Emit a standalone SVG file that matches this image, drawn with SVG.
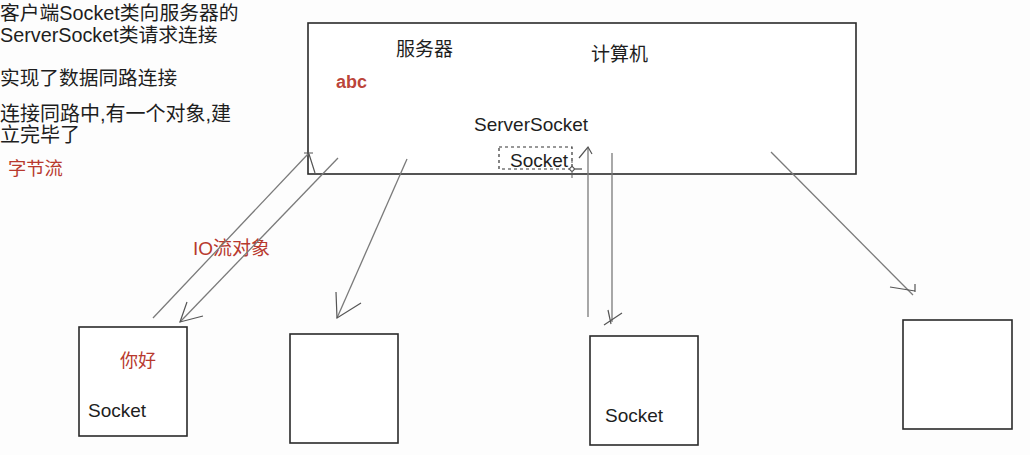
<svg xmlns="http://www.w3.org/2000/svg" width="1030" height="455" viewBox="0 0 1030 455">
<style>
text{font-family:"Liberation Sans","Noto Sans CJK SC",sans-serif;fill:#1e1e1e}
.r{fill:#b8392e}
.box{fill:#fff;stroke:#2a2a2a;stroke-width:1.6}
.ln{stroke:#7a7a7a;stroke-width:1.3;fill:none}
.ah{stroke:#555;stroke-width:1.2;fill:none}
</style>
<rect width="1030" height="455" fill="#fdfdfd"/>
<g id="notes">
<text x="0" y="20" font-size="19.8">客户端Socket类向服务器的</text>
<text x="0" y="42" font-size="19.8">ServerSocket类请求连接</text>
<text x="0" y="85" font-size="19.7">实现了数据同路连接</text>
<text x="0" y="121" font-size="20">连接同路中,有一个对象,建</text>
<text x="0" y="142" font-size="20">立完毕了</text>
<text class="r" x="8" y="175" font-size="18.3">字节流</text>
</g>
<g id="server">
<rect class="box" x="308" y="23" width="548" height="151"/>
<text x="396" y="56" font-size="19">服务器</text>
<text x="591" y="61" font-size="19">计算机</text>
<text class="r" x="336" y="88" font-size="18" font-weight="bold" fill-opacity="0.95">abc</text>
<text x="474" y="131" font-size="19">ServerSocket</text>
</g>
<g id="server-socket">
<rect x="499" y="147" width="73" height="22" fill="none" stroke="#333" stroke-width="1.2" stroke-dasharray="3,3"/>
<text x="510" y="167" font-size="19">Socket</text>
<line x1="572" y1="160" x2="572" y2="178" stroke="#777" stroke-width="1.2" stroke-dasharray="3,2"/>
<line x1="572" y1="169" x2="582" y2="169" stroke="#222" stroke-width="1"/>
<circle cx="572" cy="169" r="2.2" fill="#fff" stroke="#333" stroke-width="1"/>
</g>
<g id="client1">
<rect class="box" x="79" y="327" width="108" height="109"/>
<text class="r" x="120" y="367" font-size="18">你好</text>
<text x="88" y="417" font-size="19">Socket</text>
</g>
<g id="client2">
<rect class="box" x="290" y="334" width="108" height="109"/>
</g>
<g id="client3">
<rect class="box" x="590" y="336" width="108" height="109"/>
<text x="605" y="422" font-size="19">Socket</text>
</g>
<g id="client4">
<rect class="box" x="903" y="320" width="109" height="109"/>
</g>
<g id="io-label">
<text class="r" x="193" y="255" font-size="19">IO流对象</text>
</g>
<g id="connectors">
<line class="ln" x1="153" y1="318" x2="308" y2="154"/>
<path class="ah" d="M304,153 H313 M309,154 L315,173"/>
<line class="ln" x1="338" y1="158" x2="180" y2="322"/>
<path class="ah" d="M187,302 L180,322 L203,316"/>
<line class="ln" x1="407" y1="159" x2="337" y2="318"/>
<path class="ah" d="M336,292 L337,318 L361,303"/>
<line class="ln" x1="588" y1="147" x2="588" y2="317"/>
<path class="ah" d="M579,158 L588,147 L592,154"/>
<line class="ln" x1="612" y1="153" x2="612" y2="322"/>
<path class="ah" d="M604,325 L622,313 M608,310 L611,324"/>
<line class="ln" x1="771" y1="152" x2="913" y2="295"/>
<path class="ah" d="M890,287 L915,291 M915,284 L915,292"/>
</g>
</svg>
